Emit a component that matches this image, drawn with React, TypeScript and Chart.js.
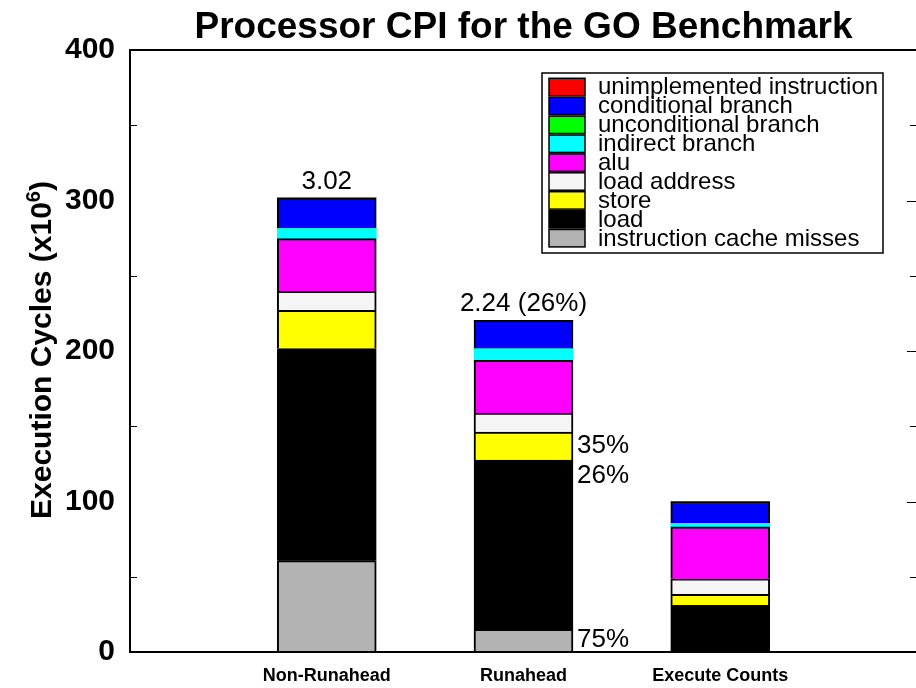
import React, { useEffect, useRef } from 'react';
import { Chart, registerables } from 'chart.js';

Chart.register(...registerables);

// ---------- data ----------
const chartTitle = 'Processor CPI for the GO Benchmark';
const categories = ['Non-Runahead', 'Runahead', 'Execute Counts'];
const yTickValues = [0, 100, 200, 300, 400];

const icacheMisses = [60.7, 15, 0];
const load = [140.9, 112.5, 31];
const store = [25.4, 18.7, 7.3];
const loadAddress = [12.7, 12.6, 10.3];
const alu = [35, 35, 34.6];
const indirectBranch = [6.6, 7.6, 2.3];
const unconditionalBranch = [0, 0, 0];
const conditionalBranch = [20.5, 19, 14.5];
const unimplementedInstruction = [0, 0, 0];

const seriesNames = [
  'instruction cache misses',
  'load',
  'store',
  'load address',
  'alu',
  'indirect branch',
  'unconditional branch',
  'conditional branch',
  'unimplemented instruction',
];
const seriesValues = [
  icacheMisses,
  load,
  store,
  loadAddress,
  alu,
  indirectBranch,
  unconditionalBranch,
  conditionalBranch,
  unimplementedInstruction,
];

const topLabels = ['3.02', '2.24 (26%)', ''];
const sideLabelCategory = 'Runahead';
const sideLabelTexts = ['35%', '26%', '75%'];
const sideLabelValues = [137, 117, 8.2];

// ---------- styles ----------
const FONT = '"Liberation Sans", Arial, Helvetica, sans-serif';
const seriesColors: Record<string, string> = {
  'instruction cache misses': '#b3b3b3',
  load: '#000000',
  store: '#ffff00',
  'load address': '#f5f5f5',
  alu: '#ff00ff',
  'indirect branch': '#00ffff',
  'unconditional branch': '#00ff00',
  'conditional branch': '#0000ff',
  'unimplemented instruction': '#ff0000',
};
const noBorder = ['indirect branch', 'unconditional branch', 'unimplemented instruction'];
const BAR_W = 99;

const overlay = {
  id: 'overlay',
  afterDraw(chart: any) {
    const { ctx, chartArea: a, scales } = chart;
    const y = scales.y;
    const x = scales.x;
    ctx.save();

    // frame
    ctx.strokeStyle = '#000';
    ctx.lineWidth = 2;
    ctx.beginPath();
    ctx.moveTo(a.left - 1, a.top);
    ctx.lineTo(a.right + 1, a.top);
    ctx.moveTo(a.left, a.top);
    ctx.lineTo(a.left, a.bottom);
    ctx.moveTo(a.left - 1, a.bottom);
    ctx.lineTo(a.right + 1, a.bottom);
    ctx.moveTo(a.right, a.top);
    ctx.lineTo(a.right, a.bottom);
    ctx.stroke();

    // tick marks
    ctx.lineWidth = 1;
    const ymin = yTickValues[0];
    const ymax = yTickValues[yTickValues.length - 1];
    const step = (yTickValues[1] - yTickValues[0]) / 2;
    for (let v = ymin + step; v < ymax; v += step) {
      const py = Math.round(y.getPixelForValue(v)) + 0.5;
      const major = yTickValues.includes(v);
      ctx.beginPath();
      if (!major) {
        ctx.moveTo(a.left, py);
        ctx.lineTo(a.left + 7, py);
      }
      const len = major ? 10 : 7;
      ctx.moveTo(a.right, py);
      ctx.lineTo(a.right - len, py);
      ctx.stroke();
    }

    // title
    ctx.fillStyle = '#000';
    ctx.font = `bold 37px ${FONT}`;
    ctx.textAlign = 'center';
    ctx.textBaseline = 'middle';
    ctx.fillText(chartTitle, (a.left + a.right) / 2, 28);

    // y axis title with superscript
    const main = 'Execution Cycles (x10';
    const sup = '6';
    const close = ')';
    ctx.font = `bold 30px ${FONT}`;
    const wMain = ctx.measureText(main).width;
    const wClose = ctx.measureText(close).width;
    ctx.font = `bold 20px ${FONT}`;
    const wSup = ctx.measureText(sup).width;
    const total = wMain + wSup + wClose;
    ctx.save();
    ctx.translate(51, 350);
    ctx.rotate(-Math.PI / 2);
    ctx.textAlign = 'left';
    ctx.textBaseline = 'alphabetic';
    let tx = -total / 2;
    ctx.font = `bold 30px ${FONT}`;
    ctx.fillText(main, tx, 0);
    tx += wMain;
    ctx.font = `bold 20px ${FONT}`;
    ctx.fillText(sup, tx, -11);
    tx += wSup;
    ctx.font = `bold 30px ${FONT}`;
    ctx.fillText(close, tx, 0);
    ctx.restore();

    // labels above bars
    ctx.font = `26px ${FONT}`;
    ctx.textAlign = 'center';
    ctx.textBaseline = 'alphabetic';
    categories.forEach((c, i) => {
      if (!topLabels[i]) return;
      const sum = seriesValues.reduce((s, arr) => s + arr[i], 0);
      const px = x.getPixelForValue(i + 1);
      const py = y.getPixelForValue(sum);
      ctx.fillText(topLabels[i], px, py - 9);
    });

    // side labels
    const ci = categories.indexOf(sideLabelCategory) + 1;
    const sx = x.getPixelForValue(ci) + BAR_W / 2 + 4;
    ctx.textAlign = 'left';
    ctx.textBaseline = 'middle';
    sideLabelTexts.forEach((t, i) => {
      ctx.fillText(t, sx, y.getPixelForValue(sideLabelValues[i]));
    });

    // legend
    const lx = 542, ly = 73, lw = 341, lh = 180;
    ctx.fillStyle = '#fff';
    ctx.fillRect(lx, ly, lw, lh);
    ctx.strokeStyle = '#000';
    ctx.lineWidth = 1.5;
    ctx.strokeRect(lx, ly, lw, lh);
    const rowH = 18.9;
    const names = [...seriesNames].reverse();
    ctx.font = `24px ${FONT}`;
    ctx.textAlign = 'left';
    ctx.textBaseline = 'middle';
    names.forEach((n, i) => {
      const ry = 78.3 + i * rowH;
      ctx.fillStyle = seriesColors[n];
      ctx.fillRect(549, ry, 36, rowH - 1.5);
      ctx.strokeStyle = '#000';
      ctx.lineWidth = 1.5;
      ctx.strokeRect(549, ry, 36, rowH - 1.5);
      ctx.fillStyle = '#000';
      ctx.fillText(n, 598, ry + rowH / 2);
    });

    ctx.restore();
  },
};

export default function App() {
  const ref = useRef<HTMLCanvasElement>(null);

  useEffect(() => {
    document.body.style.margin = '0';
    const datasets = seriesNames.map((name, k) => ({
      label: name,
      data: [null, ...seriesValues[k], null],
      backgroundColor: seriesColors[name],
      borderColor: '#000',
      borderWidth: noBorder.includes(name) ? 0 : 2,
      barThickness: BAR_W,
    }));
    const chart = new Chart(ref.current as HTMLCanvasElement, {
      type: 'bar',
      data: { labels: ['', ...categories, ''], datasets: datasets as any },
      plugins: [overlay],
      options: {
        responsive: false,
        animation: false,
        devicePixelRatio: 1,
        layout: { padding: { top: 50, right: 8, left: 0, bottom: 0 } },
        plugins: {
          legend: { display: false },
          title: { display: false },
          tooltip: { enabled: false },
        },
        scales: {
          x: {
            type: 'category',
            stacked: true,
            offset: false,
            grid: { display: false, drawTicks: false, offset: false },
            border: { display: false },
            ticks: {
              color: '#000',
              font: { family: FONT, size: 18, weight: 'bold' },
              padding: 13,
              autoSkip: false,
              maxRotation: 0,
            },
            afterFit: (s: any) => {
              s.height = 36;
            },
          },
          y: {
            type: 'linear',
            stacked: true,
            min: yTickValues[0],
            max: yTickValues[yTickValues.length - 1],
            grid: { display: false, drawTicks: false },
            border: { display: false },
            ticks: {
              stepSize: yTickValues[1] - yTickValues[0],
              color: '#000',
              font: { family: FONT, size: 30, weight: 'bold' },
              padding: 15,
            },
            afterFit: (s: any) => {
              s.width = 130;
            },
          },
        },
      } as any,
    });
    return () => chart.destroy();
  }, []);

  return (
    <div
      style={{
        position: 'fixed',
        left: 0,
        top: 0,
        width: 916,
        height: 688,
        overflow: 'hidden',
        background: '#fff',
      }}
    >
      <canvas ref={ref} width={930} height={688} style={{ display: 'block', width: 930, height: 688 }} />
    </div>
  );
}
